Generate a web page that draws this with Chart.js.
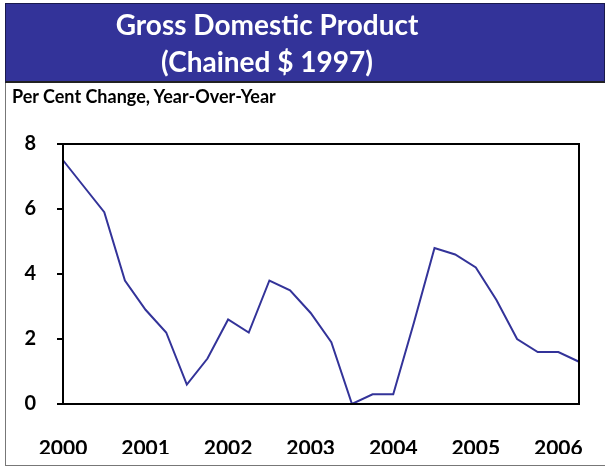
<!DOCTYPE html>
<html>
<head>
<meta charset="utf-8">
<script src="https://cdn.jsdelivr.net/npm/chart.js@4"></script>
<style>
  body { margin: 0; background: #fff; }
  #wrap { position: relative; width: 605px; height: 466px; overflow: hidden; }
  #frame { position: absolute; left: 5px; top: 3px; width: 600px; height: 462px;
           border-left: 1px solid #777; border-bottom: 1px solid #777; }
  #band { position: absolute; left: 5px; top: 3px; width: 522px; height: 75px;
          padding-right: 76px;
          background: #333399; border: 1px solid #1a1a4d; border-bottom: 2px solid #222;
          color: #fff; text-align: center; font-family: Lato, sans-serif; font-weight: bold;
          font-size: 28px; line-height: 37px; padding-top: 2px; }
  #sub { position: absolute; left: 12px; top: 85px; font-family: Lato, sans-serif;
         font-weight: bold; font-size: 18px; color: #000; }
  canvas { position: absolute; left: 0; top: 0; }
</style>
</head>
<body>
<div id="wrap">
  <canvas id="gdpChart" width="605" height="466"></canvas>
  <div id="frame"></div>
  <div id="band">Gross Domestic Product<br>(Chained $ 1997)</div>
  <div id="sub">Per Cent Change, Year-Over-Year</div>
</div>
<script>
// quarterly, 2000 Q1 .. 2006 Q2
var quarters = ['2000 Q1','2000 Q2','2000 Q3','2000 Q4',
  '2001 Q1','2001 Q2','2001 Q3','2001 Q4',
  '2002 Q1','2002 Q2','2002 Q3','2002 Q4',
  '2003 Q1','2003 Q2','2003 Q3','2003 Q4',
  '2004 Q1','2004 Q2','2004 Q3','2004 Q4',
  '2005 Q1','2005 Q2','2005 Q3','2005 Q4',
  '2006 Q1','2006 Q2'];
var gdpChange = [7.5, 6.7, 5.9, 3.8, 2.9, 2.2, 0.6, 1.4, 2.6, 2.2, 3.8, 3.5,
  2.8, 1.9, 0.0, 0.3, 0.3, 2.5, 4.8, 4.6, 4.2, 3.2, 2.0, 1.6, 1.6, 1.3];
var yearLabels = ['2000', '2001', '2002', '2003', '2004', '2005', '2006'];
var yTicks = [0, 2, 4, 6, 8];

// box round the plot area
var plotBox = {
  id: 'plotBox',
  afterDatasetsDraw: function(chart) {
    var a = chart.chartArea, c = chart.ctx;
    c.save();
    c.strokeStyle = '#000';
    c.lineWidth = 2;
    c.strokeRect(a.left, a.top, a.right - a.left, a.bottom - a.top);
    c.restore();
  }
};

var ctx = document.getElementById('gdpChart').getContext('2d');
new Chart(ctx, {
  type: 'line',
  data: {
    labels: quarters,
    datasets: [{
      data: gdpChange,
      borderColor: '#333399',
      borderWidth: 2,
      pointRadius: 0,
      tension: 0,
      fill: false
    }]
  },
  options: {
    responsive: false,
    animation: false,
    layout: { padding: { left: 0, right: 26, top: 144, bottom: 12 } },
    plugins: { legend: { display: false }, tooltip: { enabled: false } },
    scales: {
      x: {
        offset: false,
        grid: { display: false },
        border: { display: false },
        afterFit: function(s) { s.height = 50; },
        ticks: {
          autoSkip: false,
          maxRotation: 0,
          padding: 24,
          color: '#000',
          font: { family: 'Lato', weight: 'bold', size: 21 },
          callback: function(v, i) {
            return i % 4 === 0 ? yearLabels[i / 4] : '';
          }
        }
      },
      y: {
        min: 0,
        max: 8,
        afterFit: function(s) { s.width = 63; },
        afterBuildTicks: function(s) { s.ticks = yTicks.map(function(v) { return { value: v }; }); },
        grid: { display: true, drawOnChartArea: false, drawTicks: true, tickLength: 6, color: '#000', lineWidth: 2 },
        border: { display: false },
        ticks: {
          padding: 21,
          color: '#000',
          font: { family: 'Lato', weight: 'bold', size: 20 }
        }
      }
    }
  },
  plugins: [plotBox]
});
</script>
</body>
</html>
